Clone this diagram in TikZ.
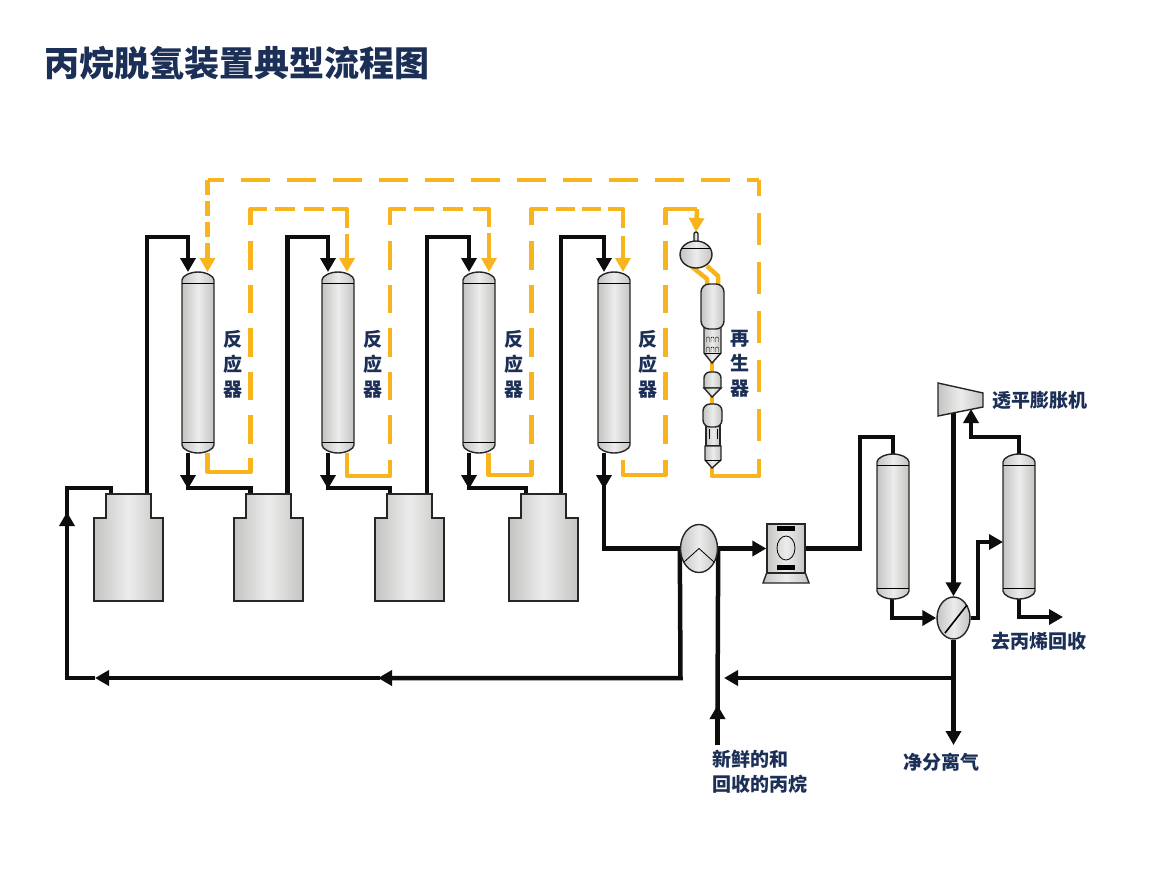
\documentclass[tikz,border=0pt]{standalone}
\usepackage{fontspec}
\setmainfont{Noto Sans CJK SC}[BoldFont={Noto Sans CJK SC Black}]
\definecolor{titleblue}{RGB}{27,47,87}
\definecolor{regenyellow}{RGB}{248,180,28}
\definecolor{steelgray}{RGB}{196,196,194}
\definecolor{steellight}{RGB}{236,236,236}
\usetikzlibrary{arrows.meta,backgrounds,shapes.geometric}
% name, centre x, top, bottom
\newcommand{\vessel}[4]{
  \draw[equip] ({#2-16},{#3+8}) .. controls ({#2-16},{#3+4}) and ({#2-8},#3) .. (#2,#3)
    .. controls ({#2+8},#3) and ({#2+16},{#3+4}) .. ({#2+16},{#3+8}) -- ({#2+16},{#4-8})
    .. controls ({#2+16},{#4-4}) and ({#2+8},#4) .. (#2,#4)
    .. controls ({#2-8},#4) and ({#2-16},{#4-4}) .. ({#2-16},{#4-8}) -- cycle;
  \draw[thick] ({#2-16},{#3+11}) -- ({#2+16},{#3+11});
  \draw[thick] ({#2-16},{#4-11}) -- ({#2+16},{#4-11});
  \node[mark node,minimum width=32pt,minimum height={#4-#3}] (#1) at (#2,{(#3+#4)/2}) {};
}
% name, left x
\newcommand{\tank}[2]{
  \draw[equip] (#2,601) -- (#2,518) -- ({#2+12},518) -- ({#2+12},494) -- ({#2+57},494)
    -- ({#2+57},518) -- ({#2+69},518) -- ({#2+69},601) -- cycle;
  \node[mark node,minimum width=69pt,minimum height=107pt] (#1) at ({#2+34.5},547.5) {};
}
% dashed upright of a yellow line, x
\newcommand{\riser}[1]{
  \draw[regen,dash pattern=on 28.5pt off 15pt] (#1,241) -- (#1,445);
}
\begin{document}
\begin{tikzpicture}[x=1pt,y=-1pt,
    equip/.style={draw=black!85,line width=1.4pt,left color=steelgray,right color=steelgray,middle color=steellight},
    mark node/.style={inner sep=0pt,outer sep=0pt},
    pipe/.style={line width=4.5pt,black!95,line join=miter},
    tip/.style={-{Triangle[length=14pt,width=15pt]}},
    regen/.style={line width=4.5pt,regenyellow,line join=round},
    label/.style={font=\bfseries\fontsize{19}{25}\selectfont,text=titleblue,align=left,inner sep=0pt}]
  \useasboundingbox (0,0) rectangle (1149,868);
  \node[anchor=west,inner sep=0pt,text=titleblue,font=\bfseries\fontsize{35}{35}\selectfont] (title) at (44,63) {丙烷脱氢装置典型流程图};

  \vessel{r1}{198}{272}{453}
  \vessel{r2}{338}{272}{453}
  \vessel{r3}{479}{272}{453}
  \vessel{r4}{614}{272}{453}
  \vessel{sep}{893}{454}{599}
  \vessel{col}{1019}{454}{599}
  \tank{t1}{94}
  \tank{t2}{234}
  \tank{t3}{375}
  \tank{t4}{509}

  % feed exchanger and compressor
  \node[equip,ellipse,inner sep=0pt,minimum width=37pt,minimum height=48pt] (ex) at (699,548.5) {};
  \draw[thick] (684,562) -- (699,548.5) -- (714,562);
  \draw[equip] (767,572) -- (763,583) -- (809,583) -- (805,572) -- cycle;
  \node[equip,inner sep=0pt,minimum width=38pt,minimum height=49pt] (cp) at (786,548.5) {};
  \node[draw=black,thick,ellipse,inner sep=0pt,minimum width=18pt,minimum height=24pt] (cpe) at (786,548) {};
  \fill (777,526) rectangle (795,531);
  \fill (777,565) rectangle (795,570);

  % cold box and expander
  \node[equip,ellipse,inner sep=0pt,minimum width=33pt,minimum height=42pt] (cb) at (953.5,618) {};
  \draw[line width=1.6pt] (945,633) -- (967,605);
  \draw[equip] (938,383) -- (983,393) -- (983,407) -- (938,416) -- cycle;
  \node[mark node,minimum width=45pt,minimum height=24pt] (exp) at (960,400) {};

  % regenerator
  \draw[equip,rounded corners=2pt] (694,246) -- (694,232) -- (698,232) -- (698,246) -- cycle;
  \node[equip,ellipse,inner sep=0pt,minimum width=32pt,minimum height=27pt] (ball) at (696,254.5) {};
  \draw[thick] (681,248) -- (711,248);
  \draw[equip] (704,325) -- (704,353) -- (712,363) -- (721,353) -- (721,325) -- cycle;
  \draw[equip,rounded corners=8pt] (701,284) rectangle (724,329);
  \foreach \x in {708,712.5,717} {
    \draw[thin,rounded corners=1pt] (\x-1.5,342) -- (\x-1.5,337) -- (\x+1.5,337) -- (\x+1.5,342);
    \draw[thin,rounded corners=1pt] (\x-1.5,352) -- (\x-1.5,347) -- (\x+1.5,347) -- (\x+1.5,352);
  }
  \draw[thick] (704,353) -- (721,353);
  \draw[equip] (704,388) [rounded corners=6pt] -- (704,372) -- (721,372) [sharp corners] -- (721,388) -- cycle;
  \draw[equip] (704,388) -- (712,397) -- (721,388) -- cycle;
  \draw[equip] (706,424) rectangle (720,446);
  \draw[equip,rounded corners=7pt] (703,404) rectangle (722,427);
  \draw[thin] (709,429) -- (709,439) (717,429) -- (717,439);
  \draw[equip] (705,446) -- (705,460) -- (712,468) -- (721,460) -- (721,446) -- cycle;
  \draw[thick] (705,460) -- (721,460);
  \node[mark node,minimum width=23pt,minimum height=236pt] (rg) at (712,350) {};

  \begin{scope}[on background layer]
    % reactor train, black lines
    \draw[pipe,tip] (ex.west) -- (680.5,678) -- (378,678);
    \draw[pipe,tip] (380,678) -- (95,678);
    \draw[pipe,tip] (95,678) -- (67,678) -- (67,512);
    \draw[pipe] (67,515) -- (67,488) -| ([xshift=-17.5pt]t1.north);
    \draw[pipe,tip] ([xshift=18.5pt]t1.north) |- (188,237) -- ([xshift=-10pt]r1.north);
    \draw[pipe,tip] ([xshift=-10pt]r1.south) -- (188,489);
    \draw[pipe] (188,486) -- (188,488) -| ([xshift=-18pt]t2.north);
    \draw[pipe,tip] ([xshift=19pt]t2.north) |- (328,237) -- ([xshift=-10pt]r2.north);
    \draw[pipe,tip] ([xshift=-10pt]r2.south) -- (328,489);
    \draw[pipe] (328,486) -- (328,488) -| ([xshift=-19.5pt]t3.north);
    \draw[pipe,tip] ([xshift=17.5pt]t3.north) |- (469,237) -- ([xshift=-10pt]r3.north);
    \draw[pipe,tip] ([xshift=-10pt]r3.south) -- (469,489);
    \draw[pipe] (469,486) -- (469,488) -| ([xshift=-17.5pt]t4.north);
    \draw[pipe,tip] ([xshift=17.5pt]t4.north) |- (604,237) -- ([xshift=-10pt]r4.north);
    \draw[pipe,tip] ([xshift=-10pt]r4.south) -- (604,489);
    \draw[pipe] (604,486) |- (ex.west);
    % feed, compressor and cold end
    \coordinate (feed) at (717.5,745);
    \draw[pipe,tip] (feed) -- (717.5,705);
    \draw[pipe] (717.5,710) -- (ex.east);
    \draw[pipe,tip] (ex.east) -- (cp.west);
    \draw[pipe] (cp.east) -- (860,548.5) |- (893,437) -- (sep.north);
    \draw[pipe,tip] ([xshift=-1pt]sep.south) |- (cb.west);
    \draw[pipe,tip] (953.5,407) -- (cb.north);
    \draw[pipe] (cb.east) -- (978,618) -- (978,542) -- (990,542);
    \draw[pipe,tip] (985,542) -- (col.west |- 0,542);
    \draw[pipe,tip] (col.north) |- (971,437) -- (971,409);
    \draw[pipe,tip] (col.south) |- (1063,617);
    \coordinate (fuel) at (953.5,745);
    \draw[pipe,tip] (cb.south) -- (fuel);
    \draw[pipe,tip] (953.5,678) -- (724,678);

    % catalyst lines, yellow
    \draw[regen] (rg.south) -- (712,476) -- (759,476) -- (759,459);
    \draw[regen,dash pattern=on 32pt off 17pt,dash phase=16pt] (759,180) -- (759,445);
    \draw[regen,dash pattern=on 29pt off 17pt,dash phase=13pt] (207.5,180) -- (759,180);
    \draw[regen,tip,dash pattern=on 15pt off 6pt] (207.5,180) -- ([xshift=9.5pt]r1.north);

    \draw[regen] ([xshift=9.5pt]r1.south) |- (250.5,472) -- (250.5,458);
    \riser{250.5}
    \draw[regen,tip,dash pattern=on 32pt off 8pt on 20pt off 9pt on 20pt off 8pt on 34pt off 6pt on 60pt off 0pt]
      (250.5,225) -- (250.5,209) -- (347,209) -- ([xshift=9pt]r2.north);

    \draw[regen] ([xshift=9pt]r2.south) |- (390,476) -- (390,460);
    \riser{390}
    \draw[regen,tip,dash pattern=on 32pt off 8pt on 20pt off 9pt on 20pt off 10pt on 34pt off 6pt on 60pt off 0pt]
      (390,225) -- (390,209) -- (489,209) -- ([xshift=10pt]r3.north);

    \draw[regen] ([xshift=9.5pt]r3.south) |- (531.5,475) -- (531.5,460);
    \riser{531.5}
    \draw[regen,tip,dash pattern=on 32pt off 8pt on 19pt off 7pt on 19pt off 7pt on 34pt off 8pt on 60pt off 0pt]
      (531.5,225) -- (531.5,209) -- (623,209) -- ([xshift=9pt]r4.north);

    \coordinate (r4out) at (623,460);
    \draw[regen] (r4out) |- (665.5,475) -- (665.5,460);
    \riser{665.5}
    \draw[regen] (665.5,225) -- (665.5,209) -- (697,209);
    \draw[regen,tip] (697,209) -- (ball.north |- 0,232);

    \draw[regen] (691,266) -- (707,279) -- (707,285);
    \draw[regen] (707,266) -- (718,276) -- (718,285);
    \draw[regen] (712,360) -- (712,375);
    \draw[regen] (712,395) -- (712,406);
  \end{scope}

  \node[label,align=center] (l1) at (233,364) {反\\应\\器};
  \node[label,align=center] (l2) at (373,364) {反\\应\\器};
  \node[label,align=center] (l3) at (514,364) {反\\应\\器};
  \node[label,align=center] (l4) at (648,364) {反\\应\\器};
  \node[label,align=center] (l5) at (740,364) {再\\生\\器};
  \node[label,anchor=west] (l6) at (992,400) {透平膨胀机};
  \node[label,anchor=west] (l7) at (991,641) {去丙烯回收};
  \node[label,anchor=west] (l8) at (903,762) {净分离气};
  \node[label,anchor=north west] (l9) at (712,750) {新鲜的和\\回收的丙烷};
\end{tikzpicture}
\end{document}
